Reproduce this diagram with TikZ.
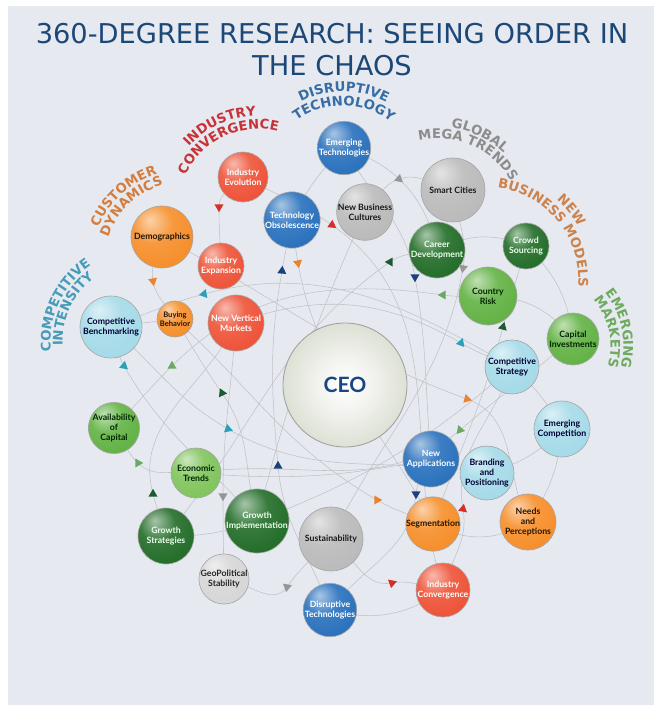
\documentclass[tikz,border=0pt]{standalone}
\usepackage{fontspec}
\setmainfont{DejaVu Sans}
\newfontfamily\ballfont{Lato}
\usetikzlibrary{shapes.geometric,calc,decorations.text,backgrounds}

\definecolor{pagebg}{RGB}{230,234,240}
\definecolor{titleblue}{RGB}{28,72,120}
\definecolor{linegray}{RGB}{192,194,200}
% ball colours
\definecolor{ballblue}{RGB}{40,112,188}
\definecolor{ballred}{RGB}{238,82,55}
\definecolor{ballorange}{RGB}{246,142,42}
\definecolor{balldkgreen}{RGB}{34,108,40}
\definecolor{ballgreen}{RGB}{98,178,68}
\definecolor{balllgreen}{RGB}{128,196,92}
\definecolor{balllblue}{RGB}{165,218,232}
\definecolor{ballgray}{RGB}{186,186,186}
\definecolor{balllgray}{RGB}{214,214,214}
\definecolor{ceocol}{RGB}{196,202,180}
\definecolor{ceotext}{RGB}{25,70,130}
% group headings
\definecolor{catteal}{RGB}{70,155,185}
\definecolor{catorange}{RGB}{212,125,62}
\definecolor{catred}{RGB}{200,50,55}
\definecolor{catblue}{RGB}{55,108,165}
\definecolor{catgray}{RGB}{140,140,140}
\definecolor{cattan}{RGB}{205,130,75}
\definecolor{catgreen}{RGB}{110,170,95}
% arrow heads
\definecolor{mkred}{RGB}{215,45,40}
\definecolor{mkorange}{RGB}{236,130,45}
\definecolor{mknavy}{RGB}{25,65,125}
\definecolor{mkdkgreen}{RGB}{28,90,50}
\definecolor{mkgreen}{RGB}{105,170,95}
\definecolor{mkteal}{RGB}{45,160,185}
\definecolor{mkgray}{RGB}{150,150,150}

\pgfdeclareradialshading[sphcol]{sphere}{\pgfqpoint{-10bp}{14bp}}{%
  color(0bp)=(sphcol!40!white);
  color(16bp)=(sphcol!90!white);
  color(34bp)=(sphcol);
  color(50bp)=(sphcol!75!black);
  color(70bp)=(sphcol!65!black)}
\pgfdeclareradialshading{ceoshade}{\pgfpointorigin}{%
  color(0bp)=(white);
  color(8bp)=(white!85!ceocol);
  color(28bp)=(ceocol!65!white);
  color(50bp)=(ceocol!92!black)}

\newcommand\catfont{\fontsize{9.4}{9.4}\selectfont\bfseries}

\begin{document}
\begin{tikzpicture}[x=0.25mm,y=0.25mm,
  sphcol/.code={\colorlet{sphcol}{#1}},
  bub/.style={circle,draw=gray!70,line width=0.45pt,shade,shading=sphere,sphcol=#1,
    inner sep=0pt,align=center,font=\ballfont\bfseries\fontsize{6.2}{7.2}\selectfont},
  rad/.style={minimum size={#1*0.5mm}},
  blueb/.style={bub=ballblue,text=white},
  redb/.style={bub=ballred,text=white},
  orangeb/.style={bub=ballorange,text=black!85!ballorange},
  dkgreenb/.style={bub=balldkgreen,text=white!92!green},
  greenb/.style={bub=ballgreen,text=black!85!green},
  lgreenb/.style={bub=balllgreen,text=black!85!green},
  lblueb/.style={bub=balllblue,text=black!80!blue},
  grayb/.style={bub=ballgray,text=black!90},
  lgrayb/.style={bub=balllgray,text=black!85},
  link/.style={draw=linegray,line width=0.4pt},
  tri/.style={regular polygon,regular polygon sides=3,fill=#1,draw=none,
    inner sep=0pt,minimum size=2.6mm},
  aim/.style={shape border rotate={#1-90}},
  catline/.style={decorate,decoration={text along path,text align=center,text={#1}}}
]

% Title
\node[font=\fontsize{19.4}{22.7}\selectfont,text=titleblue,align=center,
  anchor=north,inner sep=0pt] (title) at (332,-23)
  {360-DEGREE RESEARCH: SEEING ORDER IN\\THE CHAOS};

% Centre
\node[circle,draw=gray!75,line width=0.6pt,shade,shading=ceoshade,rad=62,
  text=ceotext,font=\ballfont\bfseries\fontsize{15}{15}\selectfont] (ceo) at (345,-385) {CEO};

% Balls
\node[blueb,rad=23]    (emtech)    at (344,-148) {Emerging\\Technologies};
\node[redb,rad=25]     (indevo)    at (243,-177) {Industry\\Evolution};
\node[blueb,rad=28]    (techobs)   at (292,-220) {Technology\\Obsolescence};
\node[grayb,rad=27]    (nbc)       at (365,-212) {New Business\\Cultures};
\node[grayb,rad=32]    (smart)     at (453,-190) {Smart Cities};
\node[dkgreenb,rad=28] (career)    at (437,-250) {Career\\Development};
\node[dkgreenb,rad=23] (crowd)     at (526,-246) {Crowd\\Sourcing};
\node[greenb,rad=29]   (country)   at (488,-296) {Country\\Risk};
\node[greenb,rad=26]   (capinv)    at (573,-339) {Capital\\Investments};
\node[lblueb,rad=27]   (compstrat) at (512,-367) {Competitive\\Strategy};
\node[lblueb,rad=28]   (emcomp)    at (562,-429) {Emerging\\Competition};
\node[blueb,rad=28]    (newapp)    at (431,-459) {New\\Applications};
\node[lblueb,rad=27]   (brand)     at (487,-473) {Branding\\and\\Positioning};
\node[orangeb,rad=28]  (needs)     at (528,-522) {Needs\\and\\Perceptions};
\node[orangeb,rad=27]  (segm)      at (433,-524) {Segmentation};
\node[redb,rad=27]     (indconv)   at (443,-590) {Industry\\Convergence};
\node[grayb,rad=32]    (sustain)   at (331,-539) {Sustainability};
\node[blueb,rad=25]    (disrupt)   at (330,-610) {Disruptive\\Technologies};
\node[lgrayb,rad=25]   (geopol)    at (224,-579) {GeoPolitical\\Stability};
\node[dkgreenb,rad=31] (growimpl)  at (257,-521) {Growth\\Implementation};
\node[dkgreenb,rad=28] (growstrat) at (166,-536) {Growth\\Strategies};
\node[lgreenb,rad=25]  (econ)      at (196,-473) {Economic\\Trends};
\node[greenb,rad=25]   (avail)     at (114,-428) {Availability\\of\\Capital};
\node[lblueb,rad=31]   (compbench) at (111,-327) {Competitive\\Benchmarking};
\node[orangeb,rad=18,font=\ballfont\bfseries\fontsize{5.4}{6.4}\selectfont]
                       (buying)    at (175,-319) {Buying\\Behavior};
\node[redb,rad=28]     (newvert)   at (236,-323) {New Vertical\\Markets};
\node[redb,rad=23]     (indexp)    at (221,-266) {Industry\\Expansion};
\node[orangeb,rad=31]  (demog)     at (162,-237) {Demographics};

% Arrow heads
\node[tri=mkgray,aim=199]    (t1)  at (399,-179) {};
\node[tri=mkred,aim=270]     (t2)  at (219,-207) {};
\node[tri=mkred,aim=-35]     (t3)  at (332,-225) {};
\node[tri=mkorange,aim=-80]  (t4)  at (298,-263) {};
\node[tri=mknavy,aim=85]     (t5)  at (282,-271) {};
\node[tri=mkdkgreen,aim=60]  (t6)  at (390,-262) {};
\node[tri=mknavy,aim=-90]    (t7)  at (415,-277) {};
\node[tri=mkgray,aim=-100]   (t8)  at (463,-268) {};
\node[tri=mkgreen,aim=180]   (t9)  at (443,-295) {};
\node[tri=mkdkgreen,aim=75]  (t10) at (503,-327) {};
\node[tri=mkorange,aim=-15]  (t11) at (467,-399) {};
\node[tri=mkgreen,aim=230]   (t12) at (460,-430) {};
\node[tri=mknavy,aim=-90]    (t13) at (416,-494) {};
\node[tri=mkred,aim=-40]     (t14) at (463,-509) {};
\node[tri=mkorange,aim=120]  (t15) at (377,-500) {};
\node[tri=mkred,aim=20]      (t16) at (392,-583) {};
\node[tri=mkgray,aim=-100]   (t17) at (287,-587) {};
\node[tri=mkgray,aim=-90]    (t18) at (223,-496) {};
\node[tri=mkdkgreen,aim=-30] (t19) at (153,-494) {};
\node[tri=mkgreen,aim=120]   (t20) at (138,-463) {};
\node[tri=mknavy,aim=90]     (t21) at (278,-466) {};
\node[tri=mkteal,aim=100]    (t22) at (228,-429) {};
\node[tri=mkdkgreen,aim=-5]  (t23) at (222,-393) {};
\node[tri=mkteal,aim=200]    (t24) at (124,-366) {};
\node[tri=mkgreen,aim=90]    (t25) at (172,-366) {};
\node[tri=mkteal,aim=190]    (t26) at (204,-294) {};
\node[tri=mkorange,aim=-80]  (t27) at (153,-281) {};
\node[tri=mkteal,aim=-50]    (t28) at (461,-343) {};

% Group headings, each bent round its own centre
\coordinate (cmpc)  at (143,-342);
\coordinate (custc) at (185,-263);
\coordinate (indc)  at (258,-208.5);
\coordinate (disc)  at (343,-183);
\coordinate (globc) at (438,-222);
\coordinate (bizc)  at (485,-280);
\coordinate (emc)   at (539,-346);
\path[catline={|\catfont\color{catteal}|COMPETITIVE}] ($(cmpc)+(215:92.5)$) arc[start angle=215,end angle=95,radius=92.5];
\path[catline={|\catfont\color{catteal}|INTENSITY}] ($(cmpc)+(215:80.5)$) arc[start angle=215,end angle=95,radius=80.5];
\path[catline={|\catfont\color{catorange}|CUSTOMER}] ($(custc)+(192.5:93.5)$) arc[start angle=192.5,end angle=72.5,radius=93.5];
\path[catline={|\catfont\color{catorange}|DYNAMICS}] ($(custc)+(193.5:81)$) arc[start angle=193.5,end angle=73.5,radius=81];
\path[catline={|\catfont\color{catred}|INDUSTRY}] ($(indc)+(174.75:92.5)$) arc[start angle=174.75,end angle=54.75,radius=92.5];
\path[catline={|\catfont\color{catred}|CONVERGENCE}] ($(indc)+(175.5:79.5)$) arc[start angle=175.5,end angle=55.5,radius=79.5];
\path[catline={|\catfont\color{catblue}|DISRUPTIVE}] ($(disc)+(149.5:91.5)$) arc[start angle=149.5,end angle=29.5,radius=91.5];
\path[catline={|\catfont\color{catblue}|TECHNOLOGY}] ($(disc)+(149.3:77.5)$) arc[start angle=149.3,end angle=29.3,radius=77.5];
\path[catline={|\catfont\color{catgray}|GLOBAL}] ($(globc)+(124.2:95)$) arc[start angle=124.2,end angle=4.2,radius=95];
\path[catline={|\catfont\color{catgray}|MEGA TRENDS}] ($(globc)+(126.2:83.5)$) arc[start angle=126.2,end angle=6.2,radius=83.5];
\path[catline={|\catfont\color{cattan}|NEW}] ($(bizc)+(99:107.5)$) arc[start angle=99,end angle=-21,radius=107.5];
\path[catline={|\catfont\color{cattan}|BUSINESS MODELS}] ($(bizc)+(114:93.5)$) arc[start angle=114,end angle=-36,radius=93.5];
\path[catline={|\catfont\color{catgreen}|EMERGING}] ($(emc)+(72.1:84.5)$) arc[start angle=72.1,end angle=-47.9,radius=84.5];
\path[catline={|\catfont\color{catgreen}|MARKETS}] ($(emc)+(72.1:71.5)$) arc[start angle=72.1,end angle=-47.9,radius=71.5];

\begin{scope}[on background layer]
\fill[white] (0,0) rectangle (654,-705);
\fill[pagebg] (8,-6) rectangle (654,-705);

% links with heads
\draw[link] (smart.center) to[out=168,in=19] (t1.center) to[out=199,in=44] (nbc.center);
\draw[link] (indevo.center) to[out=231,in=90] (t2.center) to[out=270,in=92] (indexp.center);
\draw[link] (indevo.center) to[out=-28,in=145] (t3.center) to[out=-35,in=107] (indconv.center);
\draw[link] (techobs.center) to[out=-82,in=100] (t4.center) to[out=-80,in=117] (segm.center);
\draw[link] (disrupt.center) to[out=110,in=-85] (t21.center) to[out=95,in=-100] (t5.center) to[out=80,in=259] (techobs.center);
\draw[link] (growstrat.center) to[out=50,in=215] (t6.center) to[out=35,in=194] (career.center);
\draw[link] (emtech.center) to[out=-61,in=100] (t7.center) to[out=-80,in=95] (newapp.center);
\draw[link] (smart.center) to[out=-83,in=80] (t8.center) to[out=-100,in=64] (sustain.center);
\draw[link] (avail.center) to[out=47,in=225] (t25.center) to[out=45,in=172] (t9.center) to[out=-8,in=180] (country.center);
\draw[link] (segm.center) to[out=70,in=255] (t10.center) to[out=75,in=254] (crowd.center);
\draw[link] (demog.center) to[out=-28,in=160] (t11.center) to[out=-20,in=116] (needs.center);
\draw[link] (capinv.center) to[out=219,in=40] (t12.center) to[out=220,in=9] (econ.center);
\draw[link] (newapp.center) to[out=247,in=85] (t13.center) to[out=265,in=53] (disrupt.center);
\draw[link] (compstrat.center) to[out=251,in=100] (t14.center) to[out=-80,in=76] (indconv.center);
\draw[link] (segm.center) to[out=157,in=-30] (t15.center) to[out=150,in=-42] (buying.center);
\draw[link] (sustain.center) to[out=-36,in=190] (t16.center) to[out=10,in=172] (indconv.center);
\draw[link] (sustain.center) to[out=227,in=55] (t17.center) to[out=235,in=-7] (geopol.center);
\draw[link] (newvert.center) to[out=266,in=90] (t18.center) to[out=270,in=91] (geopol.center);
\draw[link] (newvert.center) to[out=244,in=105] (t19.center) to[out=-75,in=107] (growstrat.center);
\draw[link] (econ.center) to[out=170,in=-45] (t20.center) to[out=135,in=-55] (avail.center);
\draw[link] (brand.center) to[out=170,in=-30] (t22.center) to[out=150,in=-41] (compbench.center);
\draw[link] (buying.center) to[out=-58,in=125] (t23.center) to[out=-55,in=105] (growimpl.center);
\draw[link] (growimpl.center) to[out=131,in=-60] (t24.center) to[out=120,in=-72] (compbench.center);
\draw[link] (compstrat.center) to[out=150,in=15] (t26.center) to[out=195,in=20] (compbench.center);
\draw[link] (demog.center) to[out=258,in=100] (t27.center) to[out=-80,in=120] (buying.center);
\draw[link] (newvert.center) to[out=20,in=150] (t28.center) to[out=-30,in=155] (compstrat.center);

% plain links
\draw[link] (emtech.center) to[bend right=10] (techobs.center);
\draw[link] (emtech.center) to[bend left=30] (career.center);
\draw[link] (career.center) to[bend left=25] (crowd.center);
\draw[link] (crowd.center) to[bend left=20] (capinv.center);
\draw[link] (country.center) to[bend left=25] (capinv.center);
\draw[link] (compstrat.center) to[bend left=10] (emcomp.center);
\draw[link] (emcomp.center) to[bend left=15] (brand.center);
\draw[link] (segm.center) to[bend right=30] (needs.center);
\draw[link] (growstrat.center) to[bend right=10] (growimpl.center);
\draw[link] (econ.center) to[bend right=8] (newapp.center);
\draw[link] (growimpl.center) to[bend right=10] (compstrat.center);
\draw[link] (indconv.center) to[bend left=25] (disrupt.center);
\draw[link] (compbench.center) to (buying.center);
\draw[link] (nbc.center) to[bend right=5] (growimpl.center);
\draw[link] (needs.center) to[bend right=15] (emcomp.center);
\end{scope}
\end{tikzpicture}
\end{document}
